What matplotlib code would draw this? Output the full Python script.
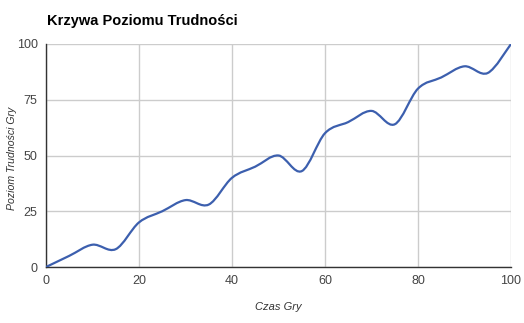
import numpy as np
import matplotlib.pyplot as plt
from matplotlib.path import Path
from matplotlib.patches import PathPatch

czas = [0, 5, 10, 15, 20, 25, 30, 35, 40, 45, 50, 55, 60, 65, 70, 75, 80, 85, 90, 95, 100]
poziom = [0, 5, 10, 8, 20, 25, 30, 28, 40, 45, 50, 43, 60, 65, 70, 64, 80, 85, 90, 87, 100]
x_ticks = [0, 20, 40, 60, 80, 100]
y_ticks = [0, 25, 50, 75, 100]

plt.rcParams['font.family'] = ['Liberation Sans', 'DejaVu Sans']

fig = plt.figure(figsize=(5.24, 3.23), dpi=100)
ax = fig.add_axes([46 / 524, 56 / 323, 465 / 524, 223 / 323])

# smooth curve like curveType 'function' (bezier through the points)
x = np.array(czas, dtype=float)
y = np.array(poziom, dtype=float)
verts = [(x[0], y[0])]
codes = [Path.MOVETO]
k = 1 / 6
for i in range(len(x) - 1):
    x0, y0 = (x[i - 1], y[i - 1]) if i > 0 else (x[i], y[i])
    x3, y3 = (x[i + 2], y[i + 2]) if i + 2 < len(x) else (x[i + 1], y[i + 1])
    c1 = (x[i] + (x[i + 1] - x0) * k, y[i] + (y[i + 1] - y0) * k)
    c2 = (x[i + 1] - (x3 - x[i]) * k, y[i + 1] - (y3 - y[i]) * k)
    verts += [c1, c2, (x[i + 1], y[i + 1])]
    codes += [Path.CURVE4] * 3
ax.add_patch(PathPatch(Path(verts, codes), fill=False, edgecolor='#3c5fae', lw=1.6, zorder=3))

ax.set_xlim(0, 100)
ax.set_ylim(0, 100)
ax.set_xticks(x_ticks)
ax.set_yticks(y_ticks)
ax.grid(True, color='#cccccc', lw=1)
ax.set_axisbelow(True)
ax.tick_params(length=0, labelsize=9, labelcolor='#444444', pad=6)
for s in ['top', 'right']:
    ax.spines[s].set_visible(False)
for s in ['left', 'bottom']:
    ax.spines[s].set_color('#333333')
    ax.spines[s].set_linewidth(1)

fig.text(278 / 524, 1 - 307 / 323, 'Czas Gry', style='italic', color='#333333',
         fontsize=8, ha='center', va='center')
fig.text(12 / 524, 1 - 158 / 323, 'Poziom Trudności Gry', style='italic', color='#333333',
         fontsize=7.6, ha='center', va='center', rotation=90)
fig.text(47 / 524, 1 - 21 / 323, 'Krzywa Poziomu Trudności', fontsize=10.5,
         fontweight='bold', color='#000000', va='center', ha='left')

fig.savefig('out.png', dpi=100)
